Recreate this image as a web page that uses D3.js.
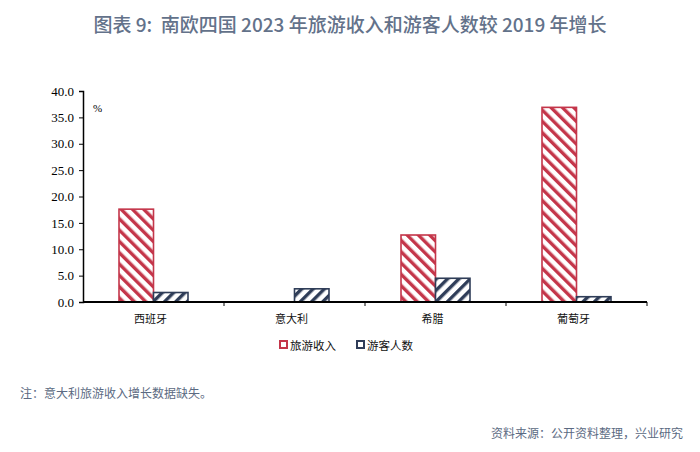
<!DOCTYPE html>
<html><head><meta charset="utf-8">
<script src="https://cdn.jsdelivr.net/npm/d3@7"></script>
<style>body{margin:0;background:#fff;}</style>
</head><body>
<script>
const categories = ["西班牙", "意大利", "希腊", "葡萄牙"];
const seriesNames = ["旅游收入", "游客人数"];
const revenue = [17.6, null, 12.7, 36.9];
const visitors = [1.8, 2.5, 4.5, 1.0];
const yTicks = [0, 5, 10, 15, 20, 25, 30, 35, 40];

const W = 700, H = 452;
const svg = d3.select("body").append("svg").attr("width", W).attr("height", H)
  .style("font-family", "'Noto Sans CJK SC', sans-serif");

const defs = svg.append("defs");
function hatch(id, color, dir) {
  const p = defs.append("pattern").attr("id", id).attr("patternUnits", "userSpaceOnUse")
    .attr("width", 8).attr("height", 8)
    .attr("patternTransform", `rotate(${dir})`);
  p.append("rect").attr("width", 8).attr("height", 8).attr("fill", "#fff");
  p.append("rect").attr("x", 0).attr("y", 0).attr("width", 3.4).attr("height", 8).attr("fill", color);
}
const RED = "#c4364a", BLUE = "#2f3d58";
hatch("hRed", RED, -45);
hatch("hBlue", BLUE, 45);

const m = {left: 83, right: 647, top: 91, bottom: 302};
const x = d3.scaleBand().domain(categories).range([m.left, m.right]);
const y = d3.scaleLinear().domain([0, 40]).range([m.bottom, m.top]);
const bw = 34.5;

// title
svg.append("text").attr("x", 350).attr("y", 32).attr("text-anchor", "middle")
  .attr("font-family", "'Noto Sans CJK SC', 'Noto Sans', sans-serif")
  .attr("font-size", 19).attr("font-weight", 500).attr("fill", "#63728a")
  .attr("xml:space", "preserve")
  .text("图表 9:  南欧四国 2023 年旅游收入和游客人数较 2019 年增长");

// bars
const data = categories.map((c, i) => ({c, r: revenue[i], v: visitors[i]}));
const g = svg.append("g");
data.forEach(d => {
  const cx = x(d.c) + x.bandwidth() / 2;
  if (d.r != null) {
    g.append("rect").attr("x", cx - bw).attr("y", y(d.r)).attr("width", bw).attr("height", y(0) - y(d.r))
      .attr("fill", "url(#hRed)").attr("stroke", RED).attr("stroke-width", 1.6);
  }
  if (d.v != null) {
    g.append("rect").attr("x", cx).attr("y", y(d.v)).attr("width", bw).attr("height", y(0) - y(d.v))
      .attr("fill", "url(#hBlue)").attr("stroke", BLUE).attr("stroke-width", 1.6);
  }
});

// y axis
const ya = svg.append("g").attr("transform", `translate(${m.left},0)`)
  .call(d3.axisLeft(y).tickValues(yTicks).tickFormat(d3.format(".1f")).tickSize(4));
ya.select(".domain").attr("stroke", "#000").attr("stroke-width", 1.5);
ya.selectAll(".tick line").attr("stroke", "#000");
ya.selectAll(".tick text").attr("font-family", "'Liberation Serif', 'Times New Roman', serif")
  .attr("font-size", 13).attr("fill", "#000").attr("x", -9);

// x axis
const xa = svg.append("g").attr("transform", `translate(0,${m.bottom})`)
  .call(d3.axisBottom(x).tickSize(0).tickFormat(""));
xa.select(".domain").attr("stroke", "#000").attr("stroke-width", 2)
  .attr("d", `M${m.left},0H${m.right}`);
const bounds = [m.left].concat(categories.map(c => x(c) + x.bandwidth()));
xa.selectAll(".sep").data(bounds.slice(1)).enter().append("line")
  .attr("x1", d => d).attr("x2", d => d).attr("y1", 0).attr("y2", 4)
  .attr("stroke", "#000").attr("stroke-width", 1);
xa.selectAll(".cat").data(categories).enter().append("text")
  .attr("x", d => x(d) + x.bandwidth() / 2 - 3).attr("y", 21)
  .attr("text-anchor", "middle").attr("font-size", 11).attr("fill", "#111")
  .attr("font-family", "'Noto Sans CJK SC', sans-serif")
  .text(d => d);

// percent sign
svg.append("text").attr("x", 93).attr("y", 112).attr("font-size", 11)
  .attr("font-family", "'Liberation Serif', serif").text("%");

// legend
const lg = svg.append("g").attr("transform", "translate(280,340)");
[[RED, seriesNames[0], 0], [BLUE, seriesNames[1], 77]].forEach(([col, name, dx]) => {
  lg.append("rect").attr("x", dx).attr("y", 1).attr("width", 7).attr("height", 7)
    .attr("fill", "#fff").attr("stroke", col).attr("stroke-width", 2);
  lg.append("text").attr("x", dx + 10).attr("y", 9.5).attr("font-size", 11.5).attr("fill", "#111")
    .text(name);
});

// note and source
svg.append("text").attr("x", 20).attr("y", 398).attr("font-size", 12).attr("fill", "#5b6a82")
  .text("注：意大利旅游收入增长数据缺失。");
svg.append("text").attr("x", 683).attr("y", 438).attr("text-anchor", "end")
  .attr("font-size", 12).attr("fill", "#5b6a82")
  .text("资料来源：公开资料整理，兴业研究");
</script>
</body></html>
